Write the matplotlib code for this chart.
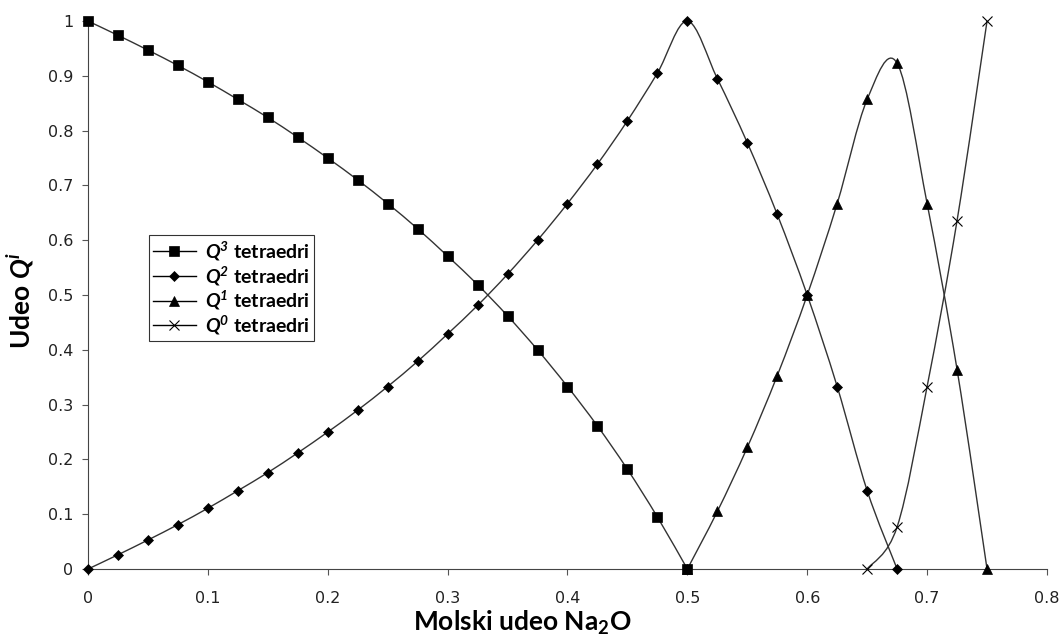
import numpy as np
import matplotlib.pyplot as plt
from matplotlib.path import Path
from matplotlib.patches import PathPatch
from matplotlib.lines import Line2D

# Udeo Q^i tetraedara u zavisnosti od molskog udela Na2O
x_q3 = [0, 0.025, 0.05, 0.075, 0.1, 0.125, 0.15, 0.175, 0.2, 0.225, 0.25,
        0.275, 0.3, 0.325, 0.35, 0.375, 0.4, 0.425, 0.45, 0.475, 0.5]
q3 = [1.0, 0.974, 0.947, 0.919, 0.889, 0.857, 0.824, 0.788, 0.75, 0.71, 0.667,
      0.621, 0.571, 0.519, 0.462, 0.4, 0.333, 0.261, 0.182, 0.095, 0.0]

x_q2 = [0, 0.025, 0.05, 0.075, 0.1, 0.125, 0.15, 0.175, 0.2, 0.225, 0.25,
        0.275, 0.3, 0.325, 0.35, 0.375, 0.4, 0.425, 0.45, 0.475, 0.5,
        0.525, 0.55, 0.575, 0.6, 0.625, 0.65, 0.675]
q2 = [0.0, 0.026, 0.053, 0.081, 0.111, 0.143, 0.176, 0.212, 0.25, 0.29, 0.333,
      0.379, 0.429, 0.481, 0.538, 0.6, 0.667, 0.739, 0.818, 0.905, 1.0,
      0.895, 0.778, 0.647, 0.5, 0.333, 0.143, 0.0]

x_q1 = [0.5, 0.525, 0.55, 0.575, 0.6, 0.625, 0.65, 0.675, 0.7, 0.725, 0.75]
q1 = [0.0, 0.105, 0.222, 0.353, 0.5, 0.667, 0.857, 0.923, 0.667, 0.364, 0.0]

x_q0 = [0.65, 0.675, 0.7, 0.725, 0.75]
q0 = [0.0, 0.077, 0.333, 0.636, 1.0]


def smooth_path(xs, ys):
    # Bezier glatka linija kroz tacke (kao "smoothed line" u Excelu)
    p = np.column_stack([xs, ys])
    n = len(p)
    verts = [p[0]]
    codes = [Path.MOVETO]
    for i in range(n - 1):
        p_prev = p[i - 1] if i > 0 else p[i]
        p_next2 = p[i + 2] if i + 2 < n else p[i + 1]
        c1 = p[i] + (p[i + 1] - p_prev) / 6
        c2 = p[i + 1] - (p_next2 - p[i]) / 6
        verts += [c1, c2, p[i + 1]]
        codes += [Path.CURVE4] * 3
    return Path(verts, codes)


plt.rcParams['mathtext.fontset'] = 'custom'
plt.rcParams['mathtext.bfit'] = 'Lato:bold:italic'
plt.rcParams['mathtext.rm'] = 'Lato:bold'

fig = plt.figure(figsize=(10.64, 6.36), dpi=100)
ax = fig.add_axes([0.0827, 0.1053, 0.9013, 0.8616])

series = [
    (x_q3, q3, 's', 6.5, r'$\mathbfit{Q}^\mathbfit{3}$ tetraedri'),
    (x_q2, q2, 'D', 5.5, r'$\mathbfit{Q}^\mathbfit{2}$ tetraedri'),
    (x_q1, q1, '^', 7, r'$\mathbfit{Q}^\mathbfit{1}$ tetraedri'),
    (x_q0, q0, 'x', 6.5, r'$\mathbfit{Q}^\mathbfit{0}$ tetraedri'),
]

handles = []
for xs, ys, m, ms, lab in series:
    ax.add_patch(PathPatch(smooth_path(xs, ys), facecolor='none',
                           edgecolor='#333333', lw=1.0, zorder=2))
    ax.plot(xs, ys, linestyle='none', marker=m, ms=ms, color='black',
            mew=0.8 if m == 'x' else 0.5, clip_on=False, zorder=3)
    handles.append(Line2D([], [], color='black', lw=1.0, marker=m, ms=ms,
                          mew=0.8 if m == 'x' else 0.5, label=lab))

ax.set_xlim(0, 0.8)
ax.set_ylim(0, 1)
ax.set_xticks(np.arange(0, 0.81, 0.1))
ax.set_yticks(np.arange(0, 1.01, 0.1))
ax.set_xticklabels(['0', '0.1', '0.2', '0.3', '0.4', '0.5', '0.6', '0.7', '0.8'])
ax.set_yticklabels(['0', '0.1', '0.2', '0.3', '0.4', '0.5', '0.6', '0.7',
                    '0.8', '0.9', '1'])
ax.tick_params(labelsize=11.5, direction='out', length=4.5, color='#555555',
               labelcolor='#222222')
ax.tick_params(axis='y', pad=6)
ax.tick_params(axis='x', pad=11)
for s in ['top', 'right']:
    ax.spines[s].set_visible(False)
for s in ['left', 'bottom']:
    ax.spines[s].set_color('#444444')

ax.set_xlabel(r'Molski udeo Na$_\mathrm{2}$O', fontsize=19, fontweight='bold',
              family='Lato')
ax.set_ylabel(r'Udeo $\mathbfit{Q}^\mathbfit{i}$', fontsize=19,
              fontweight='bold', family='Lato')
ax.xaxis.set_label_coords(0.4526, -0.072)
ax.yaxis.set_label_coords(-0.054, 0.49)

leg = ax.legend(handles=handles, loc='upper left', bbox_to_anchor=(0.0636, 0.6095),
                frameon=True, fancybox=False, edgecolor='black',
                prop={'family': 'Lato', 'weight': 'bold', 'size': 14},
                handlelength=2.2, borderpad=0.2, labelspacing=0.04,
                handletextpad=0.5, borderaxespad=0)
leg.get_frame().set_linewidth(0.8)

fig.savefig('out.png', dpi=100)
